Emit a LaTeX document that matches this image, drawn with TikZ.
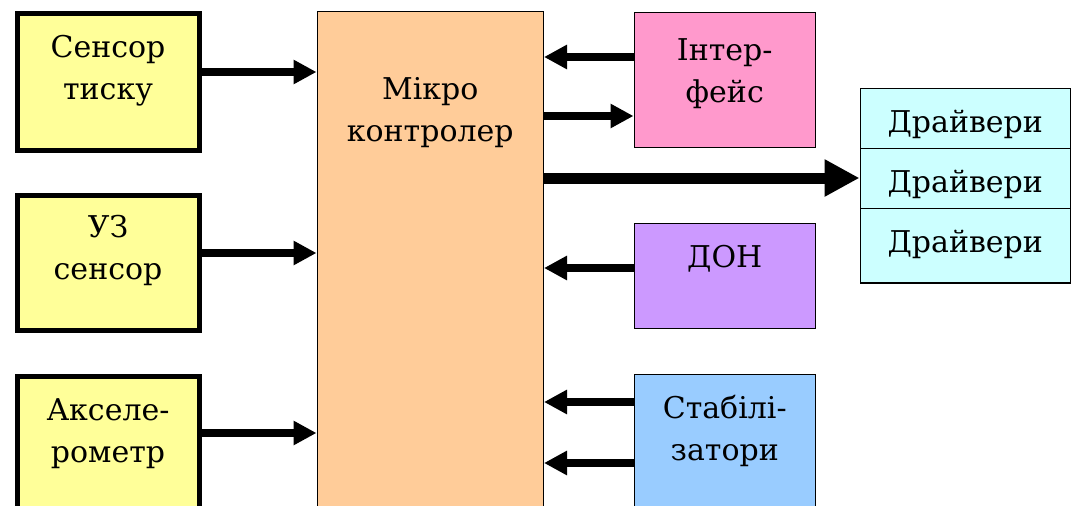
\documentclass[tikz,border=0pt]{standalone}
\usepackage{fontspec}
\setmainfont{DejaVu Serif}
\usetikzlibrary{arrows.meta}
\definecolor{cyel}{HTML}{FFFF99}
\definecolor{cpeach}{HTML}{FFCC99}
\definecolor{cpink}{HTML}{FF99CC}
\definecolor{ccyan}{HTML}{CCFFFF}
\definecolor{cpurp}{HTML}{CC99FF}
\definecolor{cblue}{HTML}{99CCFF}
\tikzset{
  sensbox/.style={draw=black, line width=5pt, fill=cyel, inner sep=0pt, anchor=north west},
  thinbox/.style={draw=black, line width=1.5pt, inner sep=0pt, anchor=north west},
  txt/.style={font=\rmfamily\fontsize{30}{42}\selectfont, align=center, inner sep=0pt, anchor=north},
  arr/.style={line width=8pt, -{Triangle[length=23pt,width=23pt]}},
  bigarr/.style={line width=11pt, -{Triangle[length=35pt,width=35pt]}},
}
\begin{document}
\begin{tikzpicture}[x=1pt,y=-1pt]
\useasboundingbox (0,0) rectangle (1071,506);
% boxes
\node[sensbox, minimum width=182pt, minimum height=137pt] (s1) at (14.5,10.5) {};
\node[sensbox, minimum width=182pt, minimum height=135pt] (s2) at (14.5,192.5) {};
\node[sensbox, minimum width=182pt, minimum height=150pt] (s3) at (14.5,373.5) {};
\node[thinbox, fill=cpeach, minimum width=226pt, minimum height=520pt] (mc) at (316.5,10.5) {};
\node[thinbox, fill=cpink, minimum width=181pt, minimum height=135pt] (intf) at (633.5,11.5) {};
\node[thinbox, fill=cpurp, minimum width=181pt, minimum height=105pt] (don) at (633.5,222.5) {};
\node[thinbox, fill=cblue, minimum width=181pt, minimum height=150pt] (stab) at (633.5,373.5) {};
\node[thinbox, fill=ccyan, minimum width=210pt, minimum height=60pt] (d1) at (859.5,87.5) {};
\node[thinbox, fill=ccyan, minimum width=210pt, minimum height=60pt] (d2) at (859.5,147.5) {};
\node[thinbox, fill=ccyan, minimum width=210pt, minimum height=74.5pt] (d3) at (859.5,207.5) {};
% texts
\node[txt] (s1t) at (s1.north |- 0,35) {Сенсор\\тиску};
\node[txt] (s2t) at (s2.north |- 0,215) {УЗ\\сенсор};
\node[txt] (s3t) at (s3.north |- 0,398) {Акселе-\\рометр};
\node[txt] (mct) at (mc.north |- 0,77) {Мікро\\контролер};
\node[txt] (intft) at (intf.north |- 0,38) {Інтер-\\фейс};
\node[txt] (dont) at (don.north |- 0,245) {ДОН};
\node[txt] (stabt) at (stab.north |- 0,395) {Стабілі-\\затори};
\node[txt] (d1t) at (d1.north |- 0,110) {Драйвери};
\node[txt] (d2t) at (d2.north |- 0,170) {Драйвери};
\node[txt] (d3t) at (d3.north |- 0,230) {Драйвери};
% connectors
\draw[arr] (s1.east |- 0,72) -- (mc.west |- 0,72);
\draw[arr] (s2.east |- 0,253) -- (mc.west |- 0,253);
\draw[arr] (s3.east |- 0,433) -- (mc.west |- 0,433);
\draw[arr] (intf.west |- 0,57) -- (mc.east |- 0,57);
\draw[arr] (mc.east |- 0,116) -- (intf.west |- 0,116);
\draw[bigarr] (mc.east |- 0,178) -- (d2.west |- 0,178);
\draw[arr] (don.west |- 0,268) -- (mc.east |- 0,268);
\draw[arr] (stab.west |- 0,402) -- (mc.east |- 0,402);
\draw[arr] (stab.west |- 0,463) -- (mc.east |- 0,463);
\end{tikzpicture}
\end{document}
